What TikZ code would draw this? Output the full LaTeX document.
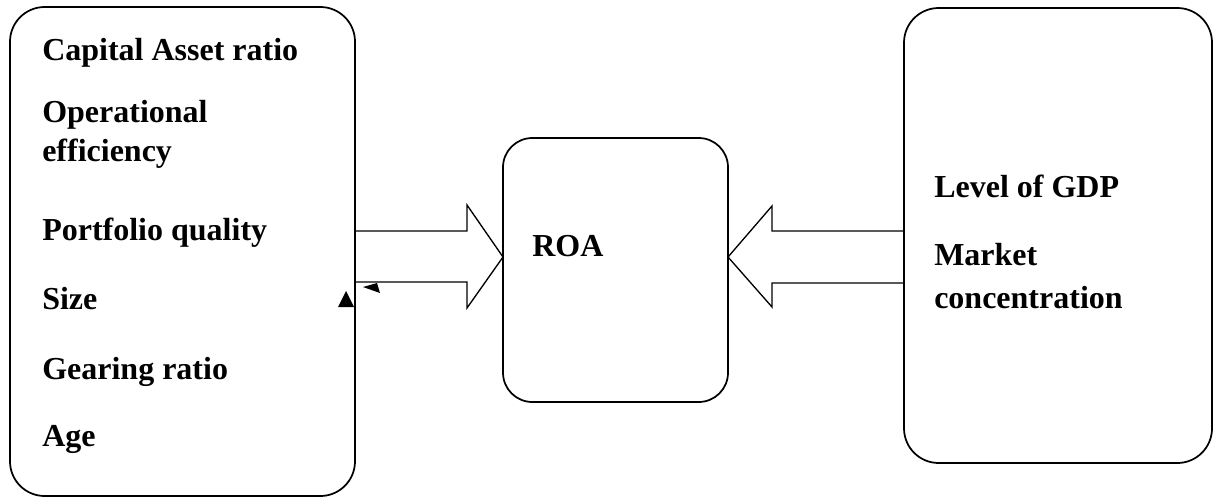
\documentclass[tikz,border=0pt]{standalone}
\usepackage{fontspec}
\setmainfont{Liberation Serif}
\begin{document}
\begin{tikzpicture}[x=0.75pt,y=-0.75pt,
  box/.style={draw=black,line width=1.3pt,rounded corners=26pt,inner sep=0pt,outer sep=0pt},
  lbl/.style={anchor=base west,inner sep=0pt,font=\fontsize{24}{28}\selectfont\bfseries},
  blockarrow/.style={draw=black,line width=1pt,line join=miter}]
\useasboundingbox (0,0) rectangle (1220,497);
% boxes
\node[box,minimum width=258.75pt,minimum height=366.75pt] (L) at (182.5,251.5) {};
\node[box,rounded corners=22pt,minimum width=168.75pt,minimum height=198pt] (M) at (615.5,270) {};
\node[box,minimum width=231pt,minimum height=341.25pt] (R) at (1058,235.5) {};
% left texts
\node[lbl] (t1) at (42,60) {Capital Asset ratio};
\node[lbl] (t2) at (42,122) {Operational};
\node[lbl] (t3) at (42,161) {efficiency};
\node[lbl] (t4) at (42,240) {Portfolio quality};
\node[lbl] (t5) at (42,309) {Size};
\node[lbl] (t6) at (42,379) {Gearing ratio};
\node[lbl] (t7) at (42,446) {Age};
% middle
\node[lbl] (roa) at (532,256) {ROA};
% right texts
\node[lbl] (r1) at (934,197) {Level of GDP};
\node[lbl] (r2) at (934,265) {Market};
\node[lbl] (r3) at (934,308) {concentration};
% block arrows
\coordinate (a1t) at (M.west |- 0,257);
\draw[blockarrow] (L.east |- 0,231) -- (467,231) -- (467,205) -- (a1t) -- (467,308) -- (467,282) -- (L.east |- 0,282);
\coordinate (a2t) at (M.east |- 0,257);
\draw[blockarrow] (R.west |- 0,231) -- (772,231) -- (772,206) -- (a2t) -- (772,307) -- (772,283) -- (R.west |- 0,283);
% small marks
\fill[black] (346,291) -- (354,307) -- (338,307) -- cycle;
\fill[black] (363,287) -- (377,283) -- (380,293) -- cycle;
\end{tikzpicture}
\end{document}
